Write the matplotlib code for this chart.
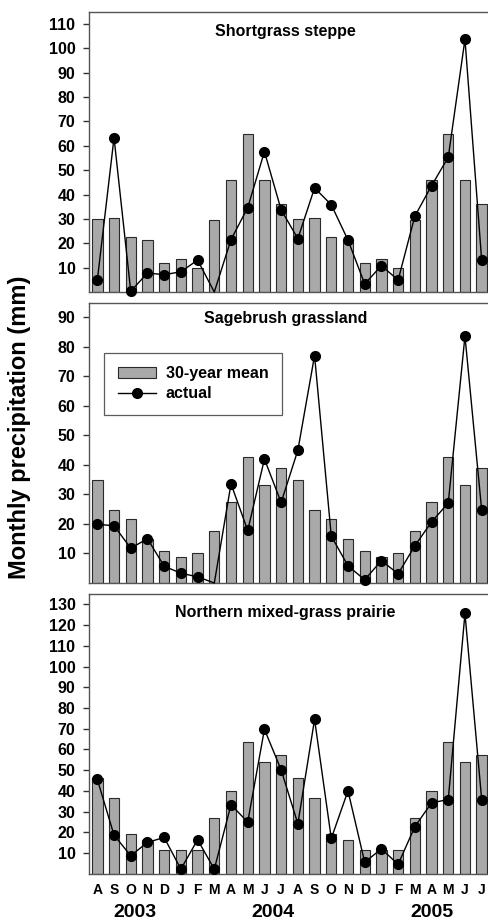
import matplotlib
matplotlib.use("Agg")
import matplotlib.pyplot as plt
import numpy as np
from matplotlib.lines import Line2D
from matplotlib.patches import Patch

plt.rcParams['font.family'] = ['Liberation Sans', 'DejaVu Sans']
plt.rcParams['font.weight'] = 'bold'

months = ["A", "S", "O", "N", "D", "J", "F", "M", "A", "M", "J", "J",
          "A", "S", "O", "N", "D", "J", "F", "M", "A", "M", "J", "J"]
years = ["2003", "2004", "2005"]
titles = ["Shortgrass steppe", "Sagebrush grassland", "Northern mixed-grass prairie"]

mean_short = [30, 30.4, 22.6, 21.5, 11.9, 13.7, 10, 29.7, 46.1, 65, 45.8, 36.3,
              30, 30.4, 22.6, 21.5, 11.9, 13.7, 10, 29.7, 46.1, 65, 45.8, 36.3]
actual_short = [4.8, 63.3, 0.3, 7.8, 7.1, 8.3, 13.1, 0, 21.5, 34.6, 57.6, 33.7,
                21.9, 42.7, 35.8, 21.3, 3.3, 10.8, 4.9, 31.1, 43.6, 55.3, 103.7, 13]

mean_sage = [34.9, 24.6, 21.6, 15, 10.8, 8.8, 10, 17.6, 27.4, 42.8, 33.2, 39,
             34.9, 24.6, 21.6, 15, 10.8, 8.8, 10, 17.6, 27.4, 42.8, 33.2, 39]
actual_sage = [19.9, 19.4, 11.8, 15, 5.7, 3.3, 2.1, 0, 33.6, 17.8, 42, 27.3,
               45, 77.1, 15.9, 5.8, 1.1, 7.6, 3.1, 12.6, 20.7, 27.1, 83.7, 24.7]

mean_north = [46, 36.5, 19, 16.4, 11.6, 11.2, 11.2, 26.7, 39.7, 63.8, 53.8, 57.5,
              46, 36.5, 19, 16.4, 11.6, 11.2, 11.2, 26.7, 39.7, 63.8, 53.8, 57.5]
actual_north = [45.5, 18.6, 8.7, 15.1, 17.5, 2.2, 16.4, 2.2, 33.3, 24.9, 69.7, 50.1,
                24.1, 74.5, 17, 40, 5.5, 12, 4.5, 22.7, 34.2, 35.8, 125.6, 35.8]

W, H = 488, 923
fig = plt.figure(figsize=(W / 100, H / 100), dpi=100)

x = np.arange(len(months))
xl = (-0.48, len(months) - 1 + 0.48)
left_px, right_px = 89.3, 489.7

panels = [
    (mean_short, actual_short, 11.7, 292, 115, np.arange(10, 111, 10), 20),
    (mean_sage, actual_sage, 302.7, 583, 95, np.arange(10, 91, 10), 16),
    (mean_north, actual_north, 594, 873.7, 135, np.arange(10, 131, 10), 18),
]

axes = []
for i, (mean, act, top, bot, ymax, ticks, tpad) in enumerate(panels):
    ax = fig.add_axes([left_px / W, 1 - bot / H, (right_px - left_px) / W, (bot - top) / H])
    axes.append(ax)
    ax.bar(x, mean, width=0.62, color='#a9a9a9', edgecolor='#2a2a2a', linewidth=0.8, zorder=2)
    act = np.array(act, dtype=float)
    ax.plot(x, act, color='black', linewidth=1.0, zorder=3, clip_on=False)
    mask = act > 0
    ax.plot(x[mask], act[mask], linestyle='none', marker='o', markersize=7,
            color='black', zorder=4, clip_on=False)
    ax.set_xlim(*xl)
    ax.set_ylim(0, ymax)
    ax.set_yticks(ticks)
    ax.set_yticklabels([str(t) for t in ticks], fontsize=11.5, fontweight='bold')
    ax.tick_params(axis='y', direction='out', length=4, width=1, pad=6, color='#333333')
    for s in ax.spines.values():
        s.set_color('#555555')
        s.set_linewidth(1.0)
    ax.text(0.49, 1 - tpad / (bot - top), titles[i], transform=ax.transAxes,
            ha='center', va='center', fontsize=11.5, fontweight='bold')
    if i < 2:
        ax.set_xticks([])
    else:
        ax.set_xticks(x)
        ax.set_xticklabels(months, fontsize=10, fontweight='bold')
        ax.tick_params(axis='x', length=0, pad=7)

# legend in middle panel
handles = [Patch(facecolor='#a9a9a9', edgecolor='#2a2a2a', linewidth=0.8),
           Line2D([0], [0], color='black', linewidth=1.0, marker='o', markersize=7)]
leg = axes[1].legend(handles, ["30-year mean", "actual"], loc='upper left',
                     bbox_to_anchor=(0.037, 0.822), frameon=True, fancybox=False,
                     edgecolor='#333333', prop={'weight': 'bold', 'size': 11.5},
                     handlelength=2.4, handleheight=0.6, borderpad=0.85, labelspacing=0.3,
                     handletextpad=0.6, borderaxespad=0)
leg.get_frame().set_linewidth(0.9)

# year labels
year_pos = [2.26, 10.5, 20.0]
for yp, yr in zip(year_pos, years):
    axes[2].text(yp, -0.14, yr, transform=axes[2].get_xaxis_transform(),
                 ha='center', va='center', fontsize=14, fontweight='bold')

fig.text(20 / W, 1 - 427 / H, "Monthly precipitation (mm)", rotation=90,
         ha='center', va='center', fontsize=17, fontweight='bold')

fig.savefig("out.png", dpi=100)
